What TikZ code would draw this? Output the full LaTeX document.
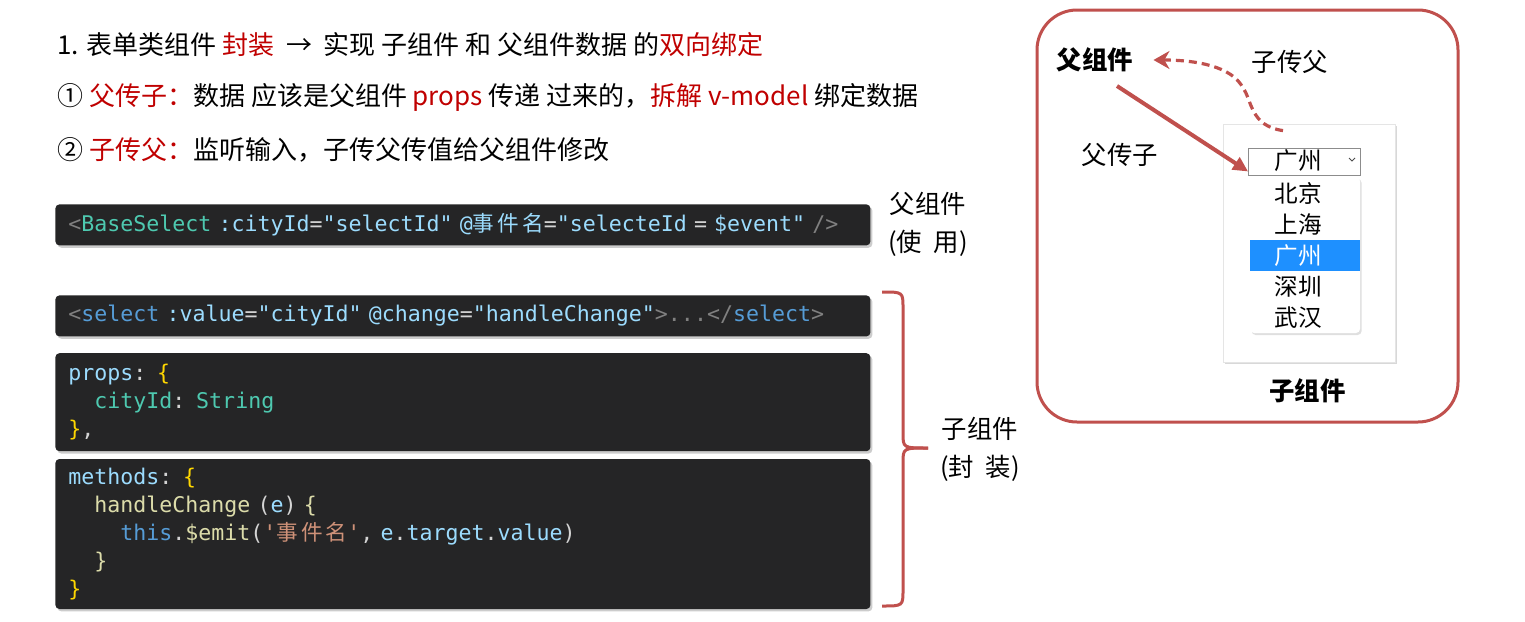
\documentclass[tikz,border=0pt]{standalone}
\usepackage{fontspec}
\setmainfont{Noto Sans CJK SC}
\setmonofont{DejaVu Sans Mono}
\newfontfamily\cjk{Noto Sans CJK SC}
\newfontfamily\cjkcode[LetterSpace=14]{Noto Sans CJK SC}
\usepackage{xcolor}
\usepackage{tikz}
\usetikzlibrary{arrows.meta, positioning, shadows}
\definecolor{brick}{RGB}{192,80,77}
\definecolor{hot}{RGB}{192,0,0}
\definecolor{codebg}{RGB}{37,37,38}
\definecolor{vsgrey}{RGB}{128,128,128}
\definecolor{vstag}{RGB}{86,156,214}
\definecolor{vscls}{RGB}{78,201,176}
\definecolor{vsattr}{RGB}{156,220,254}
\definecolor{vstext}{RGB}{212,212,212}
\definecolor{vsgold}{RGB}{255,215,0}
\definecolor{vsfunc}{RGB}{220,220,170}
\definecolor{vsstr}{RGB}{206,145,120}
\definecolor{pick}{RGB}{30,144,255}
\newcommand\zh[1]{{\cjkcode #1}}
\newcommand\cg[1]{\textcolor{vsgrey}{#1}}
\newcommand\ca[1]{\textcolor{vsattr}{#1}}
\tikzset{
  txt/.style    ={anchor=west, inner sep=0pt, font=\fontsize{13}{15}\selectfont},
  lbl/.style    ={inner sep=1pt, align=center, font=\fontsize{12.7}{19}\selectfont},
  lblb/.style   ={lbl, font=\bfseries\fontsize{12.7}{15}\selectfont},
  item/.style   ={inner sep=0pt, font=\fontsize{11.8}{14}\selectfont},
  codeblk/.style={rectangle, rounded corners=2pt, fill=codebg, text=vstext,
                  font=\ttfamily\fontsize{10.8}{14}\selectfont, align=left,
                  anchor=north west, text width=394.5pt, inner xsep=6.5pt, inner ysep=0pt,
                  drop shadow={shadow xshift=1pt, shadow yshift=-1.2pt, opacity=0.4}},
  panel/.style  ={draw=brick, line width=1.5pt, rounded corners=20pt},
  card/.style   ={rectangle, fill=white, draw=black!10, inner sep=0pt,
                  drop shadow={shadow xshift=1pt, shadow yshift=-1pt, opacity=0.3}},
  selbox/.style ={rectangle, draw=black!45, line width=0.4pt, inner sep=0pt},
  drop/.style   ={rectangle, rounded corners=2pt, fill=white, inner sep=0pt,
                  drop shadow={shadow xshift=0.8pt, shadow yshift=-1pt, opacity=0.25}},
  push/.style   ={-{Triangle[length=7.5pt,width=7pt]}, draw=brick, line width=2pt},
  pull/.style   ={-{Stealth[length=8pt,width=9pt]}, draw=brick, line width=1.6pt,
                  dash pattern=on 4pt off 2.5pt},
  brc/.style    ={draw=brick, line width=1.5pt},
}
\begin{document}
\begin{tikzpicture}[x=0.5pt, y=-0.5pt]
\fill[white] (0,0) rectangle (1525,621);
\useasboundingbox (0,0) rectangle (1525,621);

% heading lines
\node[txt] (l1) at (57,45) {1. 表单类组件 \textcolor{hot}{封装} \ →\ \ 实现 子组件 和 父组件数据 的\textcolor{hot}{双向绑定}};
\node[txt] (l2) at (57,97) {① \textcolor{hot}{父传子：}数据 应该是父组件 \textcolor{hot}{props} 传递 过来的，\textcolor{hot}{拆解 v-model} 绑定数据};
\node[txt] (l3) at (57,150) {② \textcolor{hot}{子传父：}监听输入，子传父传值给父组件修改};

% code blocks
\node[codeblk, minimum height=20.5pt] (use) at (55,204)
  {\cg{<}\textcolor{vscls}{BaseSelect} \ca{:cityId}=\ca{"selectId"} \ca{@\zh{事件名}}=\ca{"selecteId} = \ca{\$event"} \cg{/>}};
\node[codeblk, minimum height=20.5pt] (tpl) at (55,295)
  {\cg{<}\textcolor{vstag}{select} \ca{:value}=\ca{"cityId"} \ca{@change}=\ca{"handleChange"}\cg{>...</}\textcolor{vstag}{select}\cg{>}};
\node[codeblk, minimum height=49pt, below=8pt of tpl] (prp)
  {\ca{props}: \textcolor{vsgold}{\{}\\
   \phantom{xx}\textcolor{vscls}{cityId}: \textcolor{vscls}{String}\\
   \textcolor{vsgold}{\}},};
\node[codeblk, minimum height=75pt, below=3.5pt of prp] (mth)
  {\ca{methods}: \textcolor{vsgold}{\{}\\
   \phantom{xx}\textcolor{vsfunc}{handleChange} (\ca{e}) \textcolor{vsfunc}{\{}\\
   \phantom{xxxx}\textcolor{vstag}{this}.\textcolor{vsfunc}{\$emit}(\textcolor{vsstr}{'\zh{事件名}'}, \ca{e}.\ca{target}.\ca{value})\\
   \phantom{xx}\textcolor{vsfunc}{\}}\\
   \textcolor{vsgold}{\}}};

% side labels
\node[lbl] (usetag) at (928,224) {父组件\\(使\ \ 用)};
\draw[brc] (882,292) .. controls (903,292) .. (903,308) -- (903,433) .. controls (903,448) .. (928,448);
\draw[brc] (928,448) .. controls (903,448) .. (903,463) -- (903,590) .. controls (903,606) .. (882,606);
\node[lbl] (enctag) at (980,449) {子组件\\(封\ \ 装)};

% right panel
\draw[panel] (1037,10) rectangle (1458,422);
\node[card, minimum width=86pt, minimum height=119pt] (card) at (1309,243) {};
\node[selbox, minimum width=56pt, minimum height=13.5pt] (sel) at (1304.5,161.5) {};
\node[item] (cur) at (1298,161) {广州};
\draw[black!70, line width=0.5pt] (1349,158) -- (1352,161) -- (1355,158);
\node[drop, minimum width=55pt, minimum height=78pt] (menu) at (1305,255) {};
\fill[pick] (1250,240) rectangle (1360,271);
\node[item] (bj) at (1298,193) {北京};
\node[item] (sh) at (1298,224) {上海};
\node[item, text=white] (gz) at (1298,255.5) {广州};
\node[item] (sz) at (1298,287) {深圳};
\node[item] (wh) at (1298,318) {武汉};

\node[lblb] (fa) at (1095,60) {父组件};
\node[lbl] (upl) at (1290,62) {子传父};
\node[lbl] (dnl) at (1120,155) {父传子};
\node[lblb] (zi) at (1307.5,391) {子组件};

\draw[push] ([shift={(22,26)}]fa.center) -- ([yshift=-5pt]sel.west);
\coordinate (bend) at (1243,88);
\draw[pull] ([shift={(-26,7)}]card.north) .. controls (1250,126) and (1252,100) .. (bend)
  .. controls (1232,66) and (1195,60) .. ([xshift=9pt]fa.east);
\end{tikzpicture}
\end{document}
